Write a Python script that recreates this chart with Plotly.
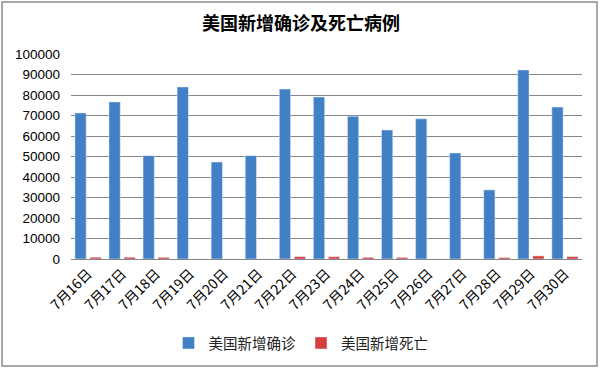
import plotly.graph_objects as go

categories = ["7月16日", "7月17日", "7月18日", "7月19日", "7月20日", "7月21日", "7月22日",
              "7月23日", "7月24日", "7月25日", "7月26日", "7月27日", "7月28日", "7月29日", "7月30日"]
confirmed = [71200, 76600, 50400, 83900, 47300, 50400, 82900, 79000, 69600, 62900,
             68400, 51700, 33700, 92200, 74100]
deaths = [850, 850, 800, 0, 0, 0, 1150, 1100, 800, 750, 0, 0, 700, 1500, 1150]
y_ticks = [0, 10000, 20000, 30000, 40000, 50000, 60000, 70000, 80000, 90000, 100000]

cjk = "Noto Sans CJK SC"
num_font = "Liberation Sans"

fig = go.Figure()
fig.add_trace(go.Bar(x=categories, y=confirmed, name="美国新增确诊", marker_color="#4180C5"))
fig.add_trace(go.Bar(x=categories, y=deaths, name="美国新增死亡", marker_color="#D63D3E"))

fig.update_layout(
    width=602, height=372,
    margin=dict(l=71, r=20, t=54, b=113),
    paper_bgcolor="white", plot_bgcolor="white",
    barmode="group", bargap=0.12, bargroupgap=0.25,
    title=dict(text="<b>美国新增确诊及死亡病例</b>", x=0.5, xanchor="center",
               y=1 - 24 / 372, yanchor="middle",
               font=dict(family=cjk, size=18, color="#000000")),
    showlegend=True,
    legend=dict(orientation="h", xref="container", yref="container",
                x=0.5, xanchor="center", y=1 - 343 / 372, yanchor="middle",
                font=dict(family=cjk, size=14.5, color="#222222"),
                itemwidth=30, tracegroupgap=0, traceorder="normal"),
    font=dict(family=num_font, color="#000000"),
)
fig.update_yaxes(range=[0, 100000], tickvals=y_ticks, ticktext=[str(v) for v in y_ticks],
                 showgrid=True, gridcolor="#868686", gridwidth=1, zeroline=False,
                 showline=False, ticks="", ticklen=0, ticklabelstandoff=10, automargin=False,
                 tickfont=dict(family=num_font, size=13.5, color="#000000"))
fig.update_xaxes(showline=True, linecolor="#868686", linewidth=1, ticks="", tickangle=-45,
                 automargin=False,
                 tickfont=dict(family=cjk, size=14, color="#000000"))
fig.add_shape(type="rect", xref="paper", yref="paper",
              x0=-69 / 511, x1=(597 - 71) / 511, y0=-(366 - 259) / 205, y1=(259 - 2) / 205,
              line=dict(color="#8C8C8C", width=1.5), fillcolor="rgba(0,0,0,0)", layer="below")

fig.write_html("out.html", config={"displayModeBar": False},
               post_script="document.body.style.margin='0';")
